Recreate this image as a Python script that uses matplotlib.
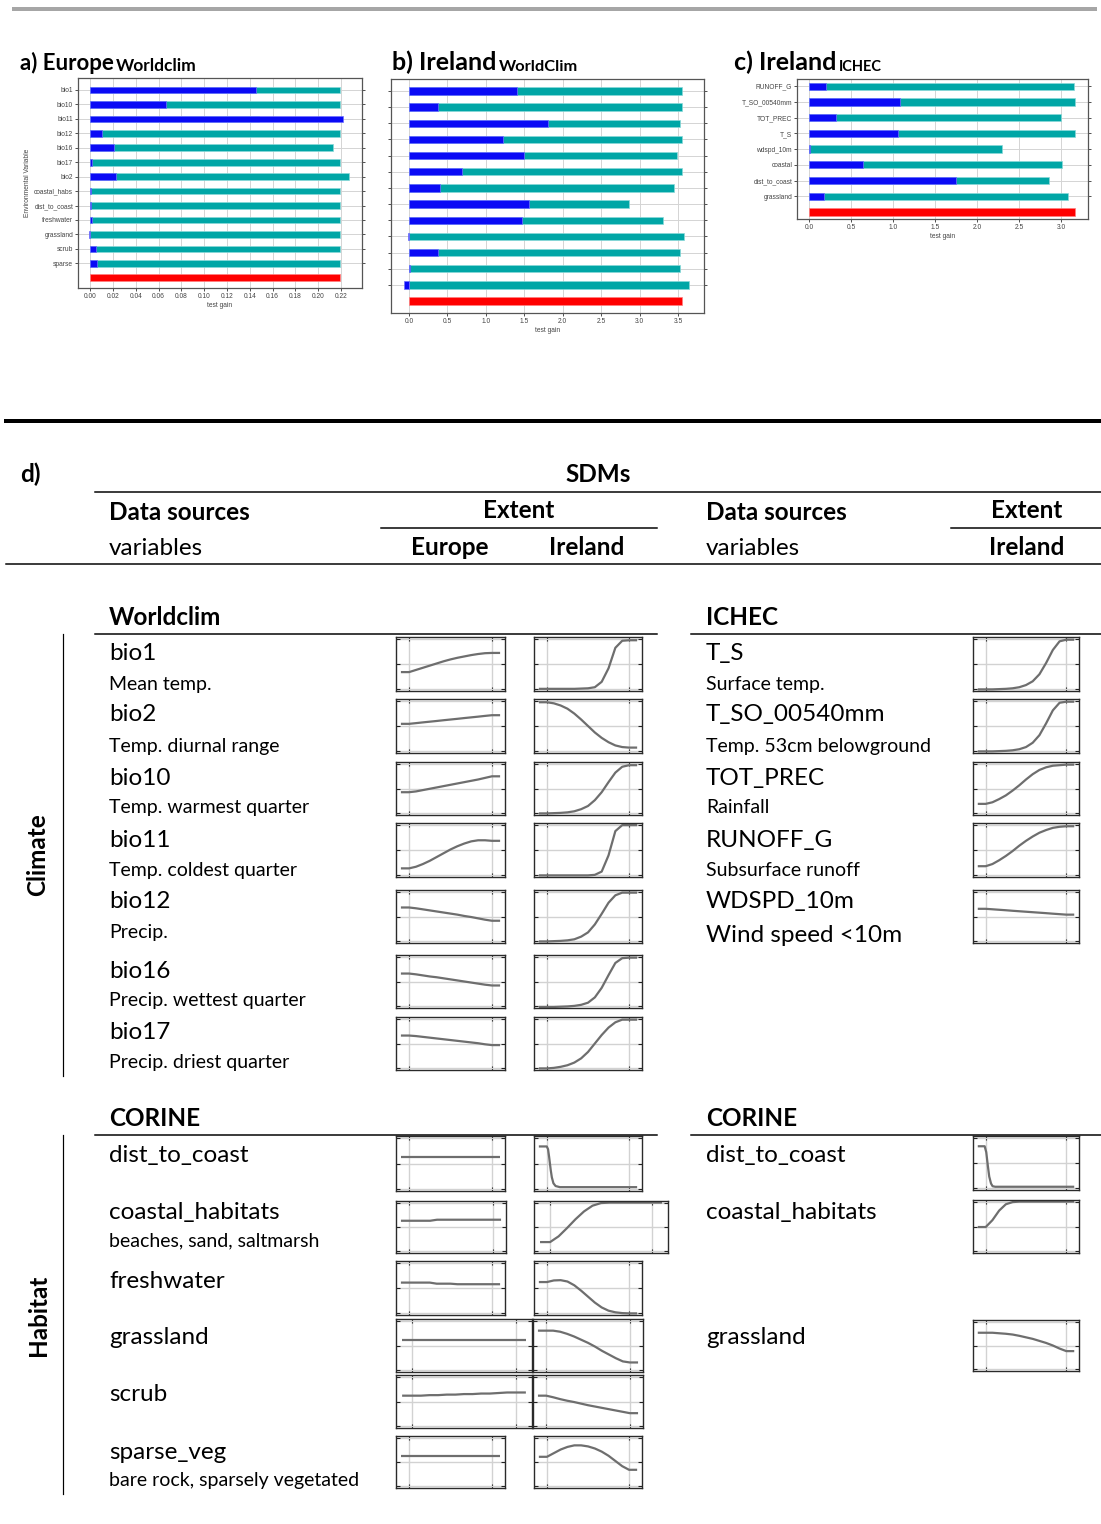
import numpy as np
import matplotlib.pyplot as plt
from matplotlib.lines import Line2D

W, H = 1101, 1524
plt.rcParams['font.family'] = ['Lato', 'DejaVu Sans']

TEAL, BLUE, RED = '#00a6a6', '#0a0af5', '#ff0000'
CURVE = '#6e6e6e'
BIG, SMALL = 17.5, 14

# --- jackknife of test gain -------------------------------------------------
a_vars = ['bio1', 'bio10', 'bio11', 'bio12', 'bio16', 'bio17', 'bio2',
          'coastal_habs', 'dist_to_coast', 'freshwater', 'grassland', 'scrub', 'sparse']
a_without = [0.219, 0.219, 0.1477, 0.219, 0.2133, 0.219, 0.2267,
             0.219, 0.219, 0.219, 0.219, 0.219, 0.219]
a_only = [0.1454, 0.0667, 0.2215, 0.0102, 0.0205, 0.0015, 0.0225,
          0.0004, 0.001, 0.0015, -0.001, 0.005, 0.0058]
a_all = 0.219

b_without = [3.557, 3.557, 3.527, 3.557, 3.483, 3.557, 3.449,
             2.860, 3.302, 3.583, 3.531, 3.527, 3.643]
b_only = [1.406, 0.372, 1.813, 1.229, 1.493, 0.684, 0.407,
          1.558, 1.471, -0.017, 0.376, 0.017, -0.06]
b_all = 3.557

c_vars = ['RUNOFF_G', 'T_SO_00540mm', 'TOT_PREC', 'T_S', 'wdspd_10m',
          'coastal', 'dist_to_coast', 'grassland']
c_without = [3.15, 3.158, 2.992, 3.166, 2.296, 3.012, 2.850, 3.079]
c_only = [0.20, 1.083, 0.324, 1.063, 0.008, 0.640, 1.743, 0.182]
c_all = 3.166

# --- response curves (relative response, sampled across the variable range) --
resp_x = np.linspace(0.12, 0.88, 13)

wc_names = ['bio1', 'bio2', 'bio10', 'bio11', 'bio12', 'bio16', 'bio17']
wc_desc = ['Mean temp.', 'Temp. diurnal range', 'Temp. warmest quarter',
           'Temp. coldest quarter', 'Precip.', 'Precip. wettest quarter',
           'Precip. driest quarter']
europe_wc = {
    'bio1':  [0.35, 0.39, 0.43, 0.47, 0.51, 0.55, 0.585, 0.615, 0.64, 0.665, 0.685, 0.70, 0.705],
    'bio2':  [0.54, 0.553, 0.567, 0.58, 0.593, 0.607, 0.62, 0.633, 0.647, 0.66, 0.673, 0.687, 0.70],
    'bio10': [0.43, 0.445, 0.47, 0.495, 0.52, 0.545, 0.57, 0.595, 0.62, 0.645, 0.67, 0.70, 0.73],
    'bio11': [0.16, 0.19, 0.24, 0.30, 0.37, 0.44, 0.51, 0.57, 0.62, 0.66, 0.68, 0.68, 0.67],
    'bio12': [0.67, 0.655, 0.635, 0.615, 0.595, 0.575, 0.555, 0.535, 0.51, 0.49, 0.465, 0.44, 0.42],
    'bio16': [0.65, 0.635, 0.615, 0.595, 0.58, 0.56, 0.54, 0.52, 0.50, 0.48, 0.46, 0.44, 0.425],
    'bio17': [0.65, 0.64, 0.625, 0.61, 0.595, 0.58, 0.565, 0.55, 0.535, 0.52, 0.505, 0.485, 0.47],
}
ireland_wc = {
    'bio1':  [0.04, 0.04, 0.04, 0.04, 0.04, 0.045, 0.05, 0.07, 0.17, 0.42, 0.80, 0.93, 0.94],
    'bio2':  [0.94, 0.92, 0.88, 0.82, 0.73, 0.62, 0.50, 0.38, 0.28, 0.20, 0.14, 0.11, 0.10],
    'bio10': [0.03, 0.035, 0.04, 0.05, 0.07, 0.11, 0.17, 0.28, 0.43, 0.62, 0.80, 0.91, 0.94],
    'bio11': [0.03, 0.03, 0.03, 0.03, 0.03, 0.03, 0.03, 0.04, 0.10, 0.40, 0.85, 0.96, 0.96],
    'bio12': [0.03, 0.035, 0.04, 0.05, 0.07, 0.12, 0.20, 0.35, 0.55, 0.76, 0.90, 0.95, 0.95],
    'bio16': [0.02, 0.02, 0.025, 0.03, 0.04, 0.06, 0.10, 0.20, 0.38, 0.62, 0.85, 0.94, 0.95],
    'bio17': [0.03, 0.04, 0.06, 0.09, 0.14, 0.22, 0.34, 0.50, 0.66, 0.80, 0.90, 0.95, 0.95],
}

ichec_names = ['T_S', 'T_SO_00540mm', 'TOT_PREC', 'RUNOFF_G', 'WDSPD_10m']
ichec_desc = ['Surface temp.', 'Temp. 53cm belowground', 'Rainfall',
              'Subsurface runoff', None]
ireland_ichec = {
    'T_S':          [0.03, 0.03, 0.035, 0.04, 0.05, 0.07, 0.11, 0.18, 0.31, 0.52, 0.76, 0.92, 0.95],
    'T_SO_00540mm': [0.03, 0.03, 0.035, 0.04, 0.05, 0.07, 0.11, 0.19, 0.33, 0.55, 0.79, 0.93, 0.95],
    'TOT_PREC':     [0.21, 0.24, 0.30, 0.37, 0.46, 0.56, 0.67, 0.77, 0.85, 0.90, 0.93, 0.94, 0.95],
    'RUNOFF_G':     [0.20, 0.24, 0.31, 0.39, 0.48, 0.58, 0.67, 0.75, 0.82, 0.87, 0.91, 0.93, 0.94],
    'WDSPD_10m':    [0.645, 0.636, 0.627, 0.618, 0.608, 0.599, 0.59, 0.581, 0.572, 0.563, 0.553, 0.544, 0.535],
}

hab_names = ['dist_to_coast', 'coastal_habitats', 'freshwater', 'grassland', 'scrub', 'sparse_veg']
hab_desc = [None, 'beaches, sand, saltmarsh', None, None, None, 'bare rock, sparsely vegetated']
europe_corine = {
    'dist_to_coast':    [0.62] * 13,
    'coastal_habitats': [0.62, 0.62, 0.62, 0.62, 0.64, 0.64, 0.64, 0.64, 0.64, 0.64, 0.64, 0.64, 0.64],
    'freshwater':       [0.60, 0.60, 0.60, 0.60, 0.58, 0.58, 0.58, 0.57, 0.57, 0.57, 0.57, 0.57, 0.57],
    'grassland':        [0.61] * 13,
    'scrub':            [0.61, 0.61, 0.62, 0.62, 0.63, 0.63, 0.64, 0.64, 0.65, 0.65, 0.66, 0.67, 0.67],
    'sparse_veg':       [0.62] * 13,
}
ireland_corine = {
    'dist_to_coast':    ([0.118, 0.13, 0.14, 0.155, 0.165, 0.18, 0.2, 0.24, 0.88],
                         [0.81, 0.76, 0.62, 0.38, 0.25, 0.14, 0.09, 0.07, 0.07]),
    'coastal_habitats': [0.21, 0.32, 0.48, 0.65, 0.80, 0.91, 0.96, 0.97, 0.97, 0.97, 0.97, 0.97, 0.97],
    'freshwater':       [0.61, 0.64, 0.645, 0.62, 0.55, 0.45, 0.34, 0.23, 0.14, 0.08, 0.05, 0.035, 0.03],
    'grassland':        [0.78, 0.78, 0.76, 0.72, 0.67, 0.61, 0.55, 0.48, 0.40, 0.33, 0.26, 0.20, 0.18],
    'scrub':            [0.61, 0.58, 0.545, 0.515, 0.49, 0.46, 0.43, 0.405, 0.38, 0.355, 0.33, 0.305, 0.28],
    'sparse_veg':       [0.60, 0.67, 0.74, 0.79, 0.82, 0.82, 0.80, 0.76, 0.70, 0.62, 0.52, 0.42, 0.35],
}
ichec_corine = {
    'dist_to_coast':    ([0.11, 0.125, 0.14, 0.153, 0.17, 0.185, 0.21, 0.88],
                         [0.81, 0.70, 0.45, 0.25, 0.12, 0.07, 0.06, 0.06]),
    'coastal_habitats': [0.49, 0.62, 0.80, 0.92, 0.96, 0.97, 0.97, 0.97, 0.97, 0.97, 0.97, 0.97, 0.97],
    'grassland':        [0.75, 0.75, 0.74, 0.73, 0.715, 0.69, 0.66, 0.63, 0.59, 0.55, 0.50, 0.44, 0.39],
}

fig = plt.figure(figsize=(W / 100, H / 100), dpi=100)
renderer = fig.canvas.get_renderer()


def rect(x0, y0, x1, y1):
    return [x0 / W, 1 - y1 / H, (x1 - x0) / W, (y1 - y0) / H]


def txt(x, y, s, size, bold=False, ha='left', va='baseline', rot=0, **kw):
    return fig.text(x / W, 1 - y / H, s, fontsize=size,
                    fontweight='bold' if bold else 'normal',
                    ha=ha, va=va, rotation=rot, **kw)


def hline(y, x0, x1, px, color='black'):
    fig.add_artist(Line2D([x0 / W, x1 / W], [1 - y / H, 1 - y / H], lw=px * 0.72,
                          color=color, transform=fig.transFigure))


def vline(x, y0, y1, px, color='black'):
    fig.add_artist(Line2D([x / W, x / W], [1 - y0 / H, 1 - y1 / H], lw=px * 0.72,
                          color=color, transform=fig.transFigure))


def panel_title(x, y, label, sub, size, sub_size):
    t = txt(x, y, label, size, bold=True)
    right = t.get_window_extent(renderer).x1
    txt(right + 2, y + 1, sub, sub_size, bold=True)


def jackknife(box, without, only, total, xlim, ticks, fmt, pads, names=None):
    ax = fig.add_axes(rect(*box))
    n = len(without)
    rows = np.arange(n)
    ax.barh(rows, without, height=0.46, color=TEAL, edgecolor='#8ad8d8', lw=0.5, zorder=2)
    ax.barh(rows, only, height=0.46, color=BLUE, edgecolor='#7070ff', lw=0.5, zorder=3)
    ax.barh([n], [total], height=0.46, color=RED, edgecolor='#ff8080', lw=0.5, zorder=3)
    ax.set_xlim(*xlim)
    ax.set_ylim(n + pads[1], -pads[0])
    ax.set_xticks(ticks)
    ax.set_xticklabels([fmt.format(t) for t in ticks], fontsize=4.8,
                       color='#444444', family='Liberation Sans')
    ax.set_yticks(rows)
    if names:
        ax.set_yticklabels(names, fontsize=4.8, color='#444444', family='Liberation Sans')
    else:
        ax.set_yticklabels([])
    ax.grid(True, color='#d4d4d4', lw=0.7, zorder=0)
    ax.set_axisbelow(True)
    ax.tick_params(length=2, width=0.6, pad=1.5, color='#333333', right=True)
    for s in ax.spines.values():
        s.set_color('#555555')
        s.set_linewidth(0.9)
    ax.set_xlabel('test gain', fontsize=4.8, color='#444444', labelpad=1.5,
                  family='Liberation Sans')
    return ax


def response(box, curve):
    ax = fig.add_axes(rect(*box))
    if isinstance(curve, tuple):
        xs, ys = list(curve[0]), list(curve[1])
    else:
        xs, ys = list(resp_x), list(curve)
    xs = [0.045] + xs + [0.955]
    ys = [ys[0]] + ys + [ys[-1]]
    ax.plot(xs, ys, color=CURVE, lw=1.6, solid_capstyle='butt')
    ax.set_xlim(0, 1)
    ax.set_ylim(0, 1)
    ax.set_xticks([0.12, 0.88])
    ax.set_yticks([0.04, 0.5, 0.96])
    ax.grid(True, color='#d2d2d2', lw=1.0)
    ax.set_axisbelow(True)
    ax.tick_params(direction='in', length=3, width=0.8, color='#222222', top=True, right=True,
                   labelbottom=False, labelleft=False)
    for s in ax.spines.values():
        s.set_color('#2a2a2a')
        s.set_linewidth(1.0)


# ---- top row: jackknife bar charts ----
hline(9, 14, 1095, 4, color='#a6a6a6')

ax_a = jackknife((78, 78, 362, 288), a_without, a_only, a_all, (-0.0108, 0.2384),
                 np.arange(0, 0.2201, 0.02), '{:.2f}', (0.83, 0.71), a_vars)
ax_a.set_ylabel('Environmental Variable', fontsize=4.8, color='#444444',
                family='Liberation Sans', labelpad=2)
jackknife((391, 79, 704, 313), b_without, b_only, b_all, (-0.234, 3.839),
          np.arange(0, 3.51, 0.5), '{:.1f}', (0.74, 0.74))
jackknife((797, 79, 1088, 219), c_without, c_only, c_all, (-0.142, 3.316),
          np.arange(0, 3.01, 0.5), '{:.1f}', (0.46, 0.45), c_vars)

panel_title(20, 70, 'a) Europe', 'Worldclim', 16, 12.5)
panel_title(392, 70, 'b) Ireland', 'WorldClim', 18, 11.8)
panel_title(734, 70, 'c) Ireland', 'ICHEC', 18, 10.5)

# ---- table of response curves ----
hline(421, 6, 1101, 4)
txt(20, 482, 'd)', BIG, bold=True)
txt(598, 482, 'SDMs', BIG, bold=True, ha='center')
hline(492, 95, 1101, 1.5)
txt(109, 520, 'Data sources', BIG, bold=True)
txt(519, 518, 'Extent', BIG, bold=True, ha='center')
hline(528, 381, 657, 1.5)
txt(706, 520, 'Data sources', BIG, bold=True)
txt(1027, 518, 'Extent', BIG, bold=True, ha='center')
hline(528, 951, 1101, 1.5)
txt(109, 555, 'variables', BIG)
txt(450, 555, 'Europe', BIG, bold=True, ha='center')
txt(587, 555, 'Ireland', BIG, bold=True, ha='center')
txt(706, 555, 'variables', BIG)
txt(1027, 555, 'Ireland', BIG, bold=True, ha='center')
hline(564, 6, 1101, 1.5)

# climate block
txt(109, 625, 'Worldclim', BIG, bold=True)
txt(706, 625, 'ICHEC', BIG, bold=True)
hline(634, 95, 657, 1.5)
hline(634, 691, 1101, 1.5)
vline(63, 634, 1076, 1.2)
txt(38, 855, 'Climate', BIG, bold=True, ha='center', va='center', rot=90)

EU_X, IE_X, IC_X = (396, 505), (534, 642), (973, 1079)
clim_rows = [(637, 691), (699, 753), (762, 815), (823, 877), (890, 943), (955, 1008), (1017, 1070)]
name_base = [660, 721, 785, 847, 908, 978, 1039]
desc_base = [690, 752, 813, 876, 938, 1006, 1068]

for i, name in enumerate(wc_names):
    y0, y1 = clim_rows[i]
    txt(109, name_base[i], name, BIG)
    txt(109, desc_base[i], wc_desc[i], SMALL)
    response((EU_X[0], y0, EU_X[1], y1), europe_wc[name])
    response((IE_X[0], y0, IE_X[1], y1), ireland_wc[name])

for i, name in enumerate(ichec_names):
    y0, y1 = clim_rows[i]
    txt(706, name_base[i], name, BIG)
    if ichec_desc[i]:
        txt(706, desc_base[i], ichec_desc[i], SMALL)
    response((IC_X[0], y0, IC_X[1], y1), ireland_ichec[name])
txt(706, 942, 'Wind speed <10m', BIG)

# habitat block
txt(109, 1126, 'CORINE', BIG, bold=True)
txt(706, 1126, 'CORINE', BIG, bold=True)
hline(1135, 95, 657, 1.5)
hline(1135, 691, 1101, 1.5)
vline(63, 1135, 1494, 1.2)
txt(38, 1315, 'Habitat', BIG, bold=True, ha='center', va='center', rot=90)

hab_rows = [(1136, 1191), (1201, 1253), (1261, 1315), (1319, 1372), (1375, 1428), (1436, 1488)]
eu_hab_x = [(396, 505), (396, 506), (396, 505), (396, 532), (396, 532), (396, 505)]
ie_hab_x = [(534, 642), (534, 668), (534, 642), (533, 643), (533, 643), (534, 642)]
hab_name_base = [1162, 1219, 1288, 1344, 1401, 1459]
hab_desc_base = [None, 1246, None, None, None, 1486]

for i, name in enumerate(hab_names):
    y0, y1 = hab_rows[i]
    txt(109, hab_name_base[i], name, BIG)
    if hab_desc[i]:
        txt(109, hab_desc_base[i], hab_desc[i], SMALL)
    response((eu_hab_x[i][0], y0, eu_hab_x[i][1], y1), europe_corine[name])
    response((ie_hab_x[i][0], y0, ie_hab_x[i][1], y1), ireland_corine[name])

ichec_hab_rows = {'dist_to_coast': (1136, 1190), 'coastal_habitats': (1200, 1253),
                  'grassland': (1320, 1371)}
for i, name in enumerate(hab_names):
    if name in ichec_corine:
        y0, y1 = ichec_hab_rows[name]
        txt(706, hab_name_base[i], name, BIG)
        response((IC_X[0], y0, IC_X[1], y1), ichec_corine[name])

fig.savefig('out.png', dpi=100, facecolor='white')
